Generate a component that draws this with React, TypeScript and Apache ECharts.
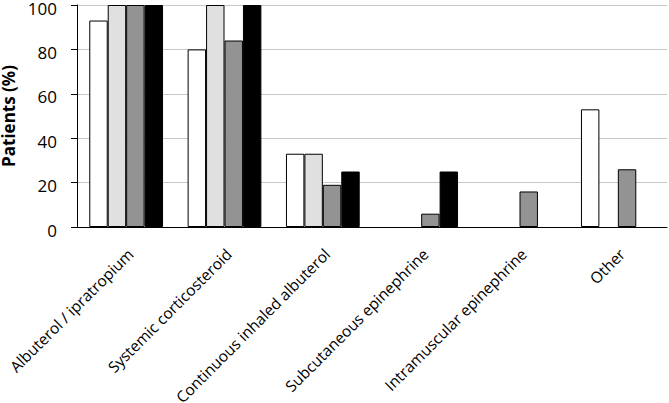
import React, { useEffect, useRef } from "react";
import * as echarts from "echarts";

const categories = [
  "Albuterol / ipratropium",
  "Systemic corticosteroid",
  "Continuous inhaled albuterol",
  "Subcutaneous epinephrine",
  "Intramuscular epinephrine",
  "Other",
];
const seriesA = [93, 80, 33, 0, 0, 53];
const seriesB = [100, 100, 33, 0, 0, 0];
const seriesC = [100, 84, 19, 6, 16, 26];
const seriesD = [100, 100, 25, 25, 0, 0];
const seriesColors = ["#ffffff", "#e0e0e0", "#939393", "#000000"];
const yTicks = [0, 20, 40, 60, 80, 100];

export default function App() {
  const ref = useRef<HTMLDivElement>(null);
  useEffect(() => {
    if (!ref.current) return;
    const chart = echarts.init(ref.current, null, { renderer: "svg" });
    const font = "'Open Sans', sans-serif";
    const mk = (data: number[], i: number) => ({
      type: "bar",
      data: data.map((v) => (v === 0 ? null : v)),
      barGap: "0%",
      barCategoryGap: "25%",
      itemStyle: { color: seriesColors[i], borderColor: "#000", borderWidth: 1 },
    });
    chart.setOption({
      animation: false,
      grid: {
        left: 77,
        top: 5,
        right: 2,
        bottom: 176,
        containLabel: false,
        outerBoundsMode: "none",
      },
      xAxis: {
        type: "category",
        data: categories,
        axisLine: { lineStyle: { color: "#000", width: 1 } },
        axisTick: { show: false },
        axisLabel: {
          rotate: 45,
          interval: 0,
          margin: 20,
          color: "#000",
          fontFamily: font,
          fontSize: 15.5,
          verticalAlign: "top",
          lineHeight: 12,
        },
      },
      yAxis: {
        type: "value",
        min: yTicks[0],
        max: yTicks[yTicks.length - 1],
        interval: 20,
        name: "Patients (%)",
        nameLocation: "middle",
        nameGap: 58,
        nameTextStyle: {
          color: "#000",
          fontFamily: font,
          fontSize: 17,
          fontWeight: "bold",
          lineHeight: 16,
        },
        axisLine: { show: true, lineStyle: { color: "#000", width: 1 } },
        axisTick: { show: true, length: 6, lineStyle: { color: "#000" } },
        splitLine: { lineStyle: { color: "#c8c8c8", width: 1 } },
        axisLabel: {
          margin: 20,
          color: "#000",
          fontFamily: font,
          fontSize: 17,
          verticalAlign: "top",
          lineHeight: 6,
        },
      },
      series: [mk(seriesA, 0), mk(seriesB, 1), mk(seriesC, 2), mk(seriesD, 3)],
    });
    return () => chart.dispose();
  }, []);
  return <div ref={ref} style={{ width: 669, height: 403, position: "absolute", left: 0, top: 0 }} />;
}
